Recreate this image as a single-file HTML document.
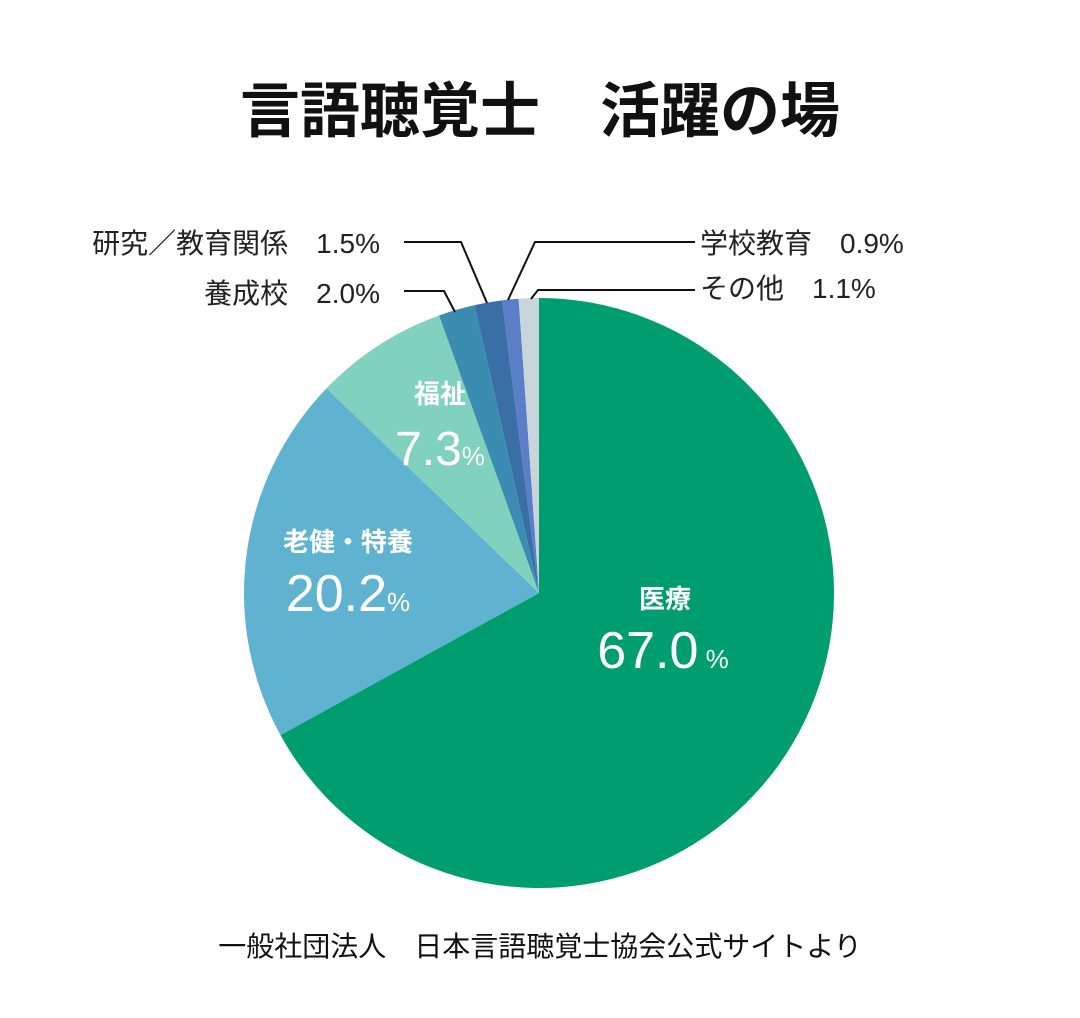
<!DOCTYPE html>
<html><head><meta charset="utf-8"><style>
body{margin:0;background:#fff;}
svg text{font-family:"Liberation Sans","Noto Sans CJK JP",sans-serif;}
</style></head><body>
<svg id="s" width="1080" height="1013" xmlns="http://www.w3.org/2000/svg">
<rect width="1080" height="1013" fill="#fff"/>
<g id="pie"></g>
<g stroke="#111" stroke-width="2" fill="none">
<polyline points="404,242 461,242 487,303"/>
<polyline points="404,291 444,291 455,312"/>
<polyline points="695,242 535,242 508,300"/>
<polyline points="695,290 538,290 531,299"/>
</g>
<text x="540" y="132" text-anchor="middle" font-size="60" font-weight="bold" fill="#111">言語聴覚士　活躍の場</text>
<g font-size="28" fill="#222">
<text x="380" y="253" text-anchor="end">研究／教育関係　1.5%</text>
<text x="380" y="303" text-anchor="end">養成校　2.0%</text>
<text x="700" y="253">学校教育　0.9%</text>
<text x="700" y="298">その他　1.1%</text>
</g>
<g fill="#fff" text-anchor="middle">
<text x="665" y="608" font-size="26" font-weight="bold">医療</text>
<text x="663" y="668" font-size="52">67.0<tspan font-size="26"> %</tspan></text>
<text x="348" y="551" font-size="26" font-weight="bold">老健・特養</text>
<text x="348" y="611" font-size="52">20.2<tspan font-size="26">%</tspan></text>
<text x="440" y="403" font-size="26" font-weight="bold">福祉</text>
<text x="440" y="465" font-size="48">7.3<tspan font-size="26">%</tspan></text>
</g>
<text x="540" y="956" text-anchor="middle" font-size="28" fill="#111">一般社団法人　日本言語聴覚士協会公式サイトより</text>
</svg>
<script>
var cx=539,cy=593,r=295;
var d=[[67.0,"#009e6e"],[20.2,"#5fb2d0"],[7.3,"#80d1bd"],[2.0,"#3a8db1"],[1.5,"#3a6fa5"],[0.9,"#5b7fc7"],[1.1,"#c9d4db"]];
var a=0,g=document.getElementById("pie"),h="";
function pt(t){var rad=t/100*2*Math.PI;return [cx+r*Math.sin(rad),cy-r*Math.cos(rad)];}
d.forEach(function(s){var p1=pt(a),p2=pt(a+s[0]);var l=s[0]>50?1:0;
h+='<path d="M'+cx+','+cy+' L'+p1[0]+','+p1[1]+' A'+r+','+r+' 0 '+l+' 1 '+p2[0]+','+p2[1]+' Z" fill="'+s[1]+'"/>';a+=s[0];});
g.innerHTML=h;
</script>
</body></html>
